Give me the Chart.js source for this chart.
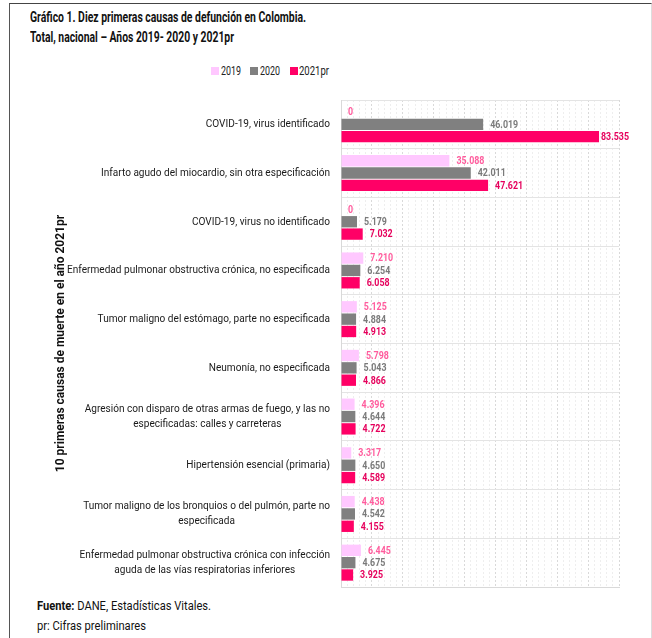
<!DOCTYPE html>
<html>
<head>
<meta charset="utf-8">
<script src="https://cdn.jsdelivr.net/npm/chart.js@4"></script>
<style>
  html, body { margin: 0; padding: 0; background: #fff; }
  body { width: 652px; height: 638px; position: relative; overflow: hidden;
         font-family: Roboto, sans-serif; color: #111; }
  #frame { position: absolute; left: 9px; top: 3px; width: 641px; height: 640px;
           border-left: 1.5px solid #555; border-top: 1.5px solid #444; border-right: 1px solid #ddd; }
  .fit { position: absolute; white-space: nowrap; transform-origin: 0 50%; }
  .t { left: 30px; font-weight: bold; font-size: 15px; }
  .f { left: 37px; font-size: 12.5px; }
  .lg { font-size: 13px; color: #222; top: 63px; }
  .box { position: absolute; width: 8px; height: 8px; top: 67px; }
  #wrap { position: absolute; left: 10px; top: 90px; width: 640px; height: 505px; }
</style>
</head>
<body>
<div id="frame"></div>
<div class="fit t" style="top:8px" data-w="276">Gráfico 1. Diez primeras causas de defunción en Colombia.</div>
<div class="fit t" style="top:28px" data-w="204">Total, nacional – Años 2019- 2020 y 2021pr</div>
<div id="legend"></div>
<div id="wrap"><canvas id="chart"></canvas></div>
<div class="fit f" style="top:598px" data-w="174"><b>Fuente:</b> DANE, Estadísticas Vitales.</div>
<div class="fit f" style="top:618px" data-w="109">pr: Cifras preliminares</div>
<script>
  const FONT = 'Roboto, sans-serif';

  const causes = [
    ['COVID-19, virus identificado'],
    ['Infarto agudo del miocardio, sin otra especificación'],
    ['COVID-19, virus no identificado'],
    ['Enfermedad pulmonar obstructiva crónica, no especificada'],
    ['Tumor maligno del estómago, parte no especificada'],
    ['Neumonía, no especificada'],
    ['Agresión con disparo de otras armas de fuego, y las no', 'especificadas: calles y carreteras'],
    ['Hipertensión esencial (primaria)'],
    ['Tumor maligno de los bronquios o del pulmón, parte no', 'especificada'],
    ['Enfermedad pulmonar obstructiva crónica con infección', 'aguda de las vías respiratorias inferiores']
  ];
  const years = ['2019', '2020', '2021pr'];
  const deaths2019 = [0, 35088, 0, 7210, 5125, 5798, 4396, 3317, 4438, 6445];
  const deaths2020 = [46019, 42011, 5179, 6254, 4884, 5043, 4644, 4650, 4542, 4675];
  const deaths2021 = [83535, 47621, 7032, 6058, 4913, 4866, 4722, 4589, 4155, 3925];

  const barColors = ['#ffc8ff', '#808080', '#ff0066'];
  const labelColors = ['#ff5c9d', '#7a7a7a', '#e6005c'];

  // legend items (box x, text x, text width)
  const legendPos = [[211, 221, 20], [250, 260, 20], [290, 299, 30]];
  const legend = document.getElementById('legend');
  years.forEach((y, i) => {
    const p = legendPos[i];
    legend.innerHTML += '<div class="box" style="left:' + p[0] + 'px;background:' + barColors[i] + '"></div>' +
      '<div class="fit lg" style="left:' + p[1] + 'px" data-w="' + p[2] + '">' + y + '</div>';
  });

  // squeeze html text to the widths of the narrow original font
  document.querySelectorAll('.fit').forEach(el => {
    const w = el.getBoundingClientRect().width;
    el.style.transform = 'scaleX(' + (el.dataset.w / w) + ')';
  });

  function fmt(v) {
    return String(v).replace(/\B(?=(\d{3})+(?!\d))/g, '.');
  }

  const labelFont = '11.5px ' + FONT;
  const valueFont = 'bold 11.5px ' + FONT;

  // category labels: right edge fixed, multi-line text centered on itself
  const catLabels = {
    id: 'catLabels',
    afterDraw(chart) {
      const ctx = chart.ctx;
      const y = chart.scales.y;
      const right = y.right - 11;
      ctx.save();
      ctx.font = labelFont;
      ctx.fillStyle = '#1a1a1a';
      ctx.textBaseline = 'middle';
      ctx.textAlign = 'center';
      const k = 229 / ctx.measureText(causes[1][0]).width;
      causes.forEach((lines, i) => {
        const cy = y.getPixelForTick(i);
        const maxW = Math.max(...lines.map(l => ctx.measureText(l).width)) * k;
        const lh = 15;
        const top = cy - (lines.length - 1) * lh / 2;
        lines.forEach((l, n) => {
          ctx.save();
          ctx.translate(right - maxW / 2, top + n * lh);
          ctx.scale(k, 1);
          ctx.fillText(l, 0, 0);
          ctx.restore();
        });
      });
      ctx.restore();
    }
  };

  // value labels at the end of each bar
  const valueLabels = {
    id: 'valueLabels',
    afterDatasetsDraw(chart) {
      const ctx = chart.ctx;
      const limit = chart.chartArea.right + 10;
      ctx.save();
      ctx.textBaseline = 'middle';
      ctx.textAlign = 'left';
      ctx.font = valueFont;
      const k = 28 / ctx.measureText('46.019').width;
      chart.data.datasets.forEach((ds, di) => {
        const meta = chart.getDatasetMeta(di);
        ctx.fillStyle = labelColors[di];
        meta.data.forEach((bar, i) => {
          const txt = fmt(ds.data[i]);
          const w = ctx.measureText(txt).width * k;
          const x = Math.min(bar.x + 7, limit - w);
          ctx.save();
          ctx.translate(x, bar.y + 0.5);
          ctx.scale(k, 1);
          ctx.fillText(txt, 0, 0);
          ctx.restore();
        });
      });
      ctx.restore();
    }
  };

  new Chart(document.getElementById('chart'), {
    type: 'bar',
    data: {
      labels: causes,
      datasets: [
        { label: years[0], data: deaths2019, backgroundColor: barColors[0] },
        { label: years[1], data: deaths2020, backgroundColor: barColors[1] },
        { label: years[2], data: deaths2021, backgroundColor: barColors[2] }
      ]
    },
    options: {
      indexAxis: 'y',
      responsive: true,
      maintainAspectRatio: false,
      animation: false,
      categoryPercentage: 0.76,
      barPercentage: 0.92,
      layout: { padding: { left: 40, top: 10, right: 31, bottom: 8 } },
      plugins: {
        legend: { display: false },
        tooltip: { enabled: false }
      },
      scales: {
        x: {
          min: 0,
          max: 90000,
          ticks: { display: false, stepSize: 2000 },
          grid: {
            drawTicks: false,
            color: c => (c.tick && c.tick.value % 10000 === 0) ? '#d9d9d9' : '#eeeeee'
          },
          border: { display: true, color: '#d9d9d9', dash: [2, 2] }
        },
        y: {
          ticks: { display: false },
          grid: { drawTicks: false, color: '#e4e4e4' },
          border: { display: true, color: '#d9d9d9' },
          afterFit: s => { s.width = 291; },
          title: {
            display: true,
            text: '10 primeras causas de muerte en el año 2021pr',
            color: '#111',
            font: { family: FONT, size: 12, weight: 'bold' }
          }
        }
      }
    },
    plugins: [catLabels, valueLabels]
  });
</script>
</body>
</html>
